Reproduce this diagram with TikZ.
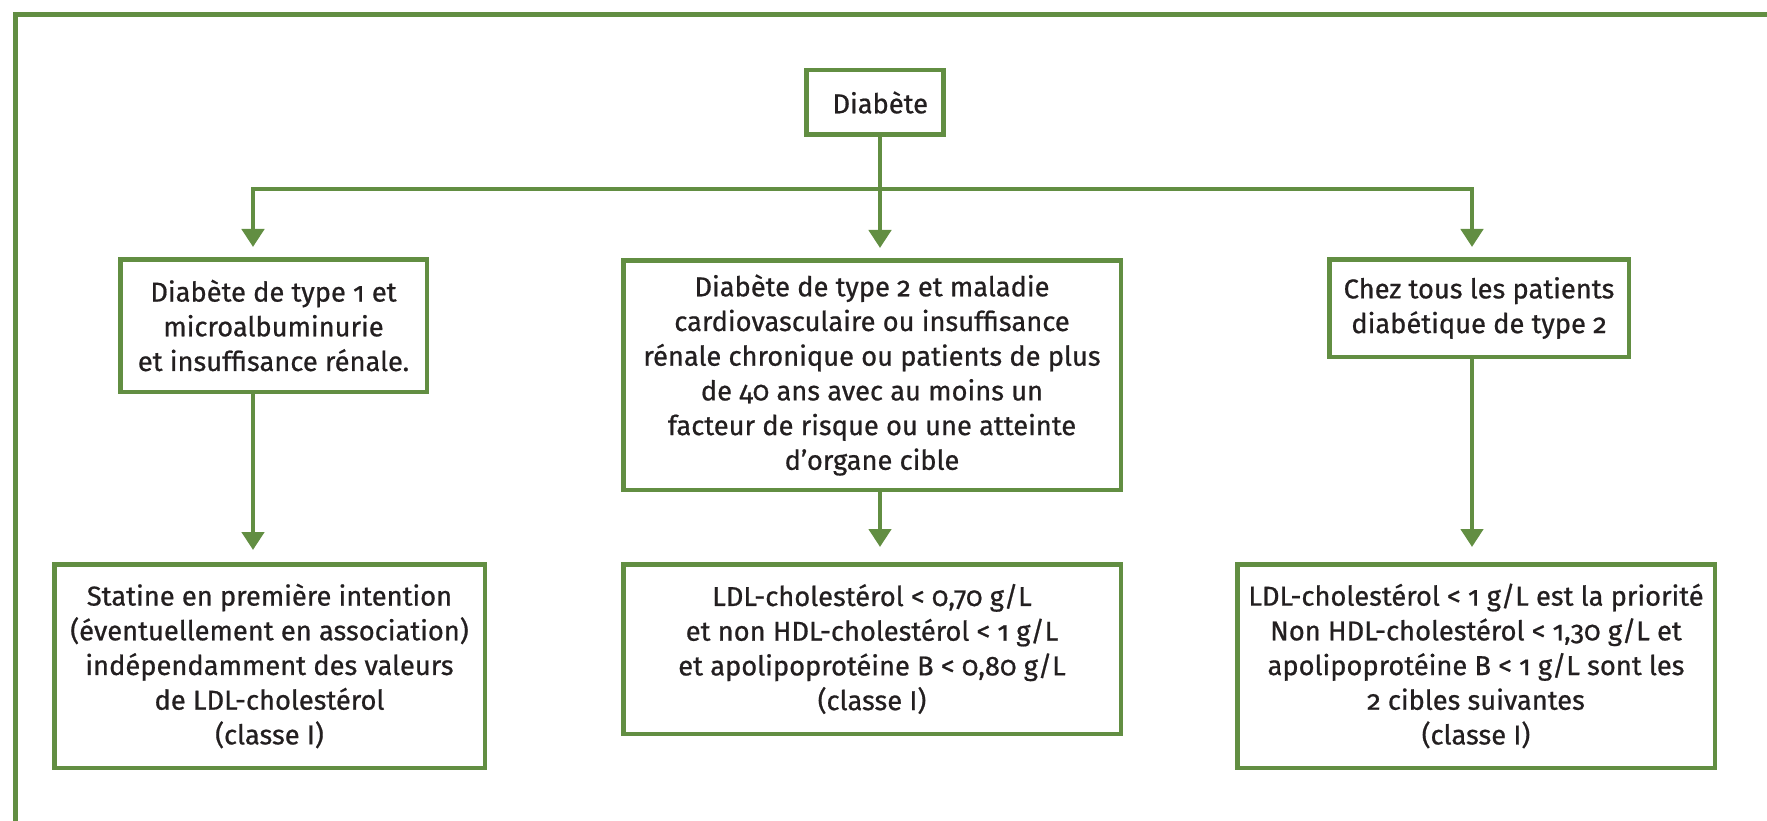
\documentclass[tikz,border=0pt]{standalone}
\usepackage{fontspec}
\setmainfont[Numbers=OldStyle]{Fira Sans}
\newfontfamily\boxfont[Numbers=OldStyle,FakeBold=0.7]{Fira Sans}
\usetikzlibrary{arrows.meta}
\definecolor{dgreen}{RGB}{98,142,66}
\definecolor{txt}{RGB}{35,31,32}
\tikzset{
  box/.style={draw=dgreen, line width=4.5pt, fill=white, align=center, inner sep=0pt,
    text=txt, font=\boxfont\fontsize{27.3}{34.7}\selectfont},
  conn/.style={draw=dgreen, line width=4.5pt},
  arr/.style={conn, -{Triangle[width=22pt,length=18pt]}},
  frame/.style={draw=dgreen, line width=5pt, line join=miter}
}
\begin{document}
\begin{tikzpicture}[x=1pt,y=-1pt]
\useasboundingbox (0,0) rectangle (1767,821);
\draw[frame] (15,840) -- (15,14.5) -- (1790,14.5);

\node[box, minimum width=137pt, minimum height=64.5pt] (diab) at (874.75,102.5) {\hspace*{11pt}Diabète};

\node[box, minimum width=306.5pt, minimum height=132.5pt] (b1) at (273.5,325.5)
  {Diabète de type 1 et\\microalbuminurie\\et insuffisance rénale.};
\node[box, minimum width=497.5pt, minimum height=229.5pt] (b2) at (872,375)
  {Diabète de type 2 et maladie\\cardiovasculaire ou insuffisance\\rénale chronique ou patients de plus\\de 40 ans avec au moins un\\facteur de risque ou une atteinte\\d’organe cible};
\node[box, minimum width=299.5pt, minimum height=97.5pt] (b3) at (1479,308)
  {Chez tous les patients\\diabétique de type 2};

\node[box, minimum width=430.5pt, minimum height=203.5pt] (c1) at (269.5,666)
  {Statine en première intention\\(éventuellement en association)\\indépendamment des valeurs\\de LDL-cholestérol\\(classe I)};
\node[box, minimum width=497.5pt, minimum height=169.5pt] (c2) at (872,649)
  {LDL-cholestérol < 0,70 g/L\\et non HDL-cholestérol < 1 g/L\\et apolipoprotéine B < 0,80 g/L\\(classe I)};
\node[box, minimum width=477.5pt, minimum height=203.5pt] (c3) at (1476,666)
  {LDL-cholestérol < 1 g/L est la priorité\\Non HDL-cholestérol < 1,30 g/L et\\apolipoprotéine B < 1 g/L sont les\\2 cibles suivantes\\(classe I)};

\coordinate (jm) at (880,189);
\coordinate (jl) at (253,189);
\coordinate (jr) at (1472,189);

\draw[conn] (jl) -- (jr);
\draw[arr, shorten >=10pt] (diab.south -| jm) -- (b2.north -| jm);
\draw[arr, shorten >=10pt, line join=miter] ([xshift=-2.25pt]jl) -- (jl) -- (b1.north -| jl);
\draw[arr, shorten >=10pt, line join=miter] ([xshift=2.25pt]jr) -- (jr) -- (b3.north -| jr);

\draw[arr, shorten >=12pt] (b1.south -| jl) -- (c1.north -| jl);
\draw[arr, shorten >=15pt] (b2.south -| jm) -- (c2.north -| jm);
\draw[arr, shorten >=15pt] (b3.south -| jr) -- (c3.north -| jr);
\end{tikzpicture}
\end{document}
